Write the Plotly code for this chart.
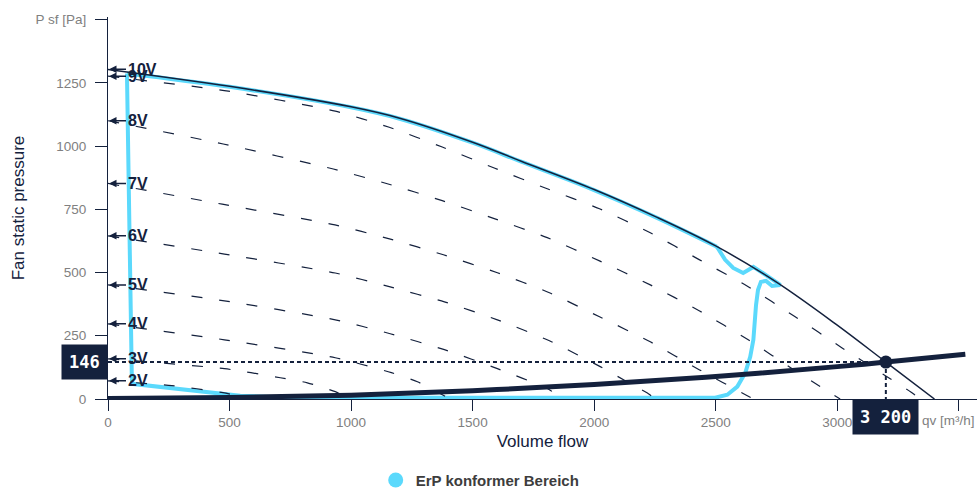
import plotly.graph_objects as go

NAVY = "#14213d"
ERP_BLUE = "#5bd9fc"
GRAY = "#808080"

# ---- axis ticks ----
x_ticks = [0, 500, 1000, 1500, 2000, 2500, 3000, 3500]
x_tick_labels = ["0", "500", "1000", "1500", "2000", "2500", "3000", ""]
x_unit_label = "qv [m³/h]"
y_ticks = [0, 250, 500, 750, 1000, 1250, 1500]
y_tick_labels = ["0", "250", "500", "750", "1000", "1250", "P sf [Pa]"]

# ---- fan curves (volume flow m³/h, static pressure Pa) ----
q_10v = [0, 500, 1000, 1200, 1500, 1700, 2000, 2250, 2500, 2750, 3000, 3200, 3400]
p_10v = [1303, 1236, 1155, 1110, 1015, 940, 828, 722, 605, 462, 292, 146, 0]

q_9v = [0, 495, 935, 1157, 1375, 1589, 1807, 2022, 2231, 2432, 2634, 2827, 3020, 3218, 3313, 3337]
p_9v = [1276, 1217, 1138, 1074, 996, 913, 831, 752, 657, 551, 444, 325, 202, 80, 21, 0]

q_8v = [0, 474, 927, 1149, 1375, 1589, 1807, 2022, 2231, 2432, 2634, 2827, 3012]
p_8v = [1100, 1008, 909, 851, 784, 713, 638, 546, 451, 349, 234, 112, 0]

q_7v = [0, 470, 934, 1158, 1380, 1602, 1816, 2022, 2231, 2432, 2630, 2655]
p_7v = [852, 770, 688, 633, 570, 499, 420, 325, 226, 116, 13, 0]

q_6v = [0, 479, 935, 1161, 1384, 1602, 1816, 2025, 2128, 2223, 2251]
p_6v = [645, 573, 498, 443, 384, 313, 230, 128, 72, 21, 0]

q_5v = [0, 479, 935, 1161, 1384, 1602, 1816, 1862]
p_5v = [451, 388, 313, 258, 195, 120, 37, 0]

q_4v = [0, 479, 935, 1166, 1273, 1408]
p_4v = [297, 234, 163, 104, 68, 0]

q_3v = [0, 479, 709, 820, 935, 997]
p_3v = [159, 120, 84, 64, 29, 0]

q_2v = [0, 263, 473, 585]
p_2v = [72, 53, 25, 0]

dashed_names = ["9V", "8V", "7V", "6V", "5V", "4V", "3V", "2V"]
dashed_q = [q_9v, q_8v, q_7v, q_6v, q_5v, q_4v, q_3v, q_2v]
dashed_p = [p_9v, p_8v, p_7v, p_6v, p_5v, p_4v, p_3v, p_2v]

# ---- ErP conform area outline ----
erp_top_q = [78, 500, 1000, 1200, 1500, 1700, 2000, 2250, 2505]
erp_top_p = [1287, 1234, 1153, 1108, 1013, 938, 826, 720, 602]
erp_rest_q = [2505, 2539, 2572, 2613, 2634, 2655, 2710, 2766, 2732, 2707, 2686, 2674, 2666,
              2655, 2642, 2622, 2589, 2548, 2498, 2000, 1000, 750, 544, 265, 100, 98, 78]
erp_rest_p = [602, 550, 518, 498, 510, 522, 488, 451, 447, 467, 463, 431, 372,
              234, 167, 104, 49, 17, 5, 4, 4, 5, 13, 45, 60, 84, 1287]

# ---- system curve and operating point ----
sys_q = [0, 500, 1000, 1500, 2000, 2500, 3000, 3200, 3527]
sys_p = [2, 6, 15, 33, 57, 89, 128, 146, 177]
op_q = 3200
op_p = 146

fig = go.Figure()

# ErP area outline (behind)
fig.add_trace(go.Scatter(x=erp_top_q, y=erp_top_p, mode="lines",
                         line=dict(color=ERP_BLUE, width=4, shape="spline", smoothing=1.0),
                         showlegend=False, hoverinfo="skip"))
fig.add_trace(go.Scatter(x=erp_rest_q, y=erp_rest_p, mode="lines",
                         line=dict(color=ERP_BLUE, width=4),
                         showlegend=False, hoverinfo="skip"))

# dashed lower-voltage curves
for name, q, p in zip(dashed_names, dashed_q, dashed_p):
    fig.add_trace(go.Scatter(x=q, y=p, mode="lines", name=name,
                             line=dict(color=NAVY, width=1.2, dash="11px,17px", shape="spline", smoothing=0.6),
                             showlegend=False, hoverinfo="skip"))

# 10V max curve
fig.add_trace(go.Scatter(x=q_10v, y=p_10v, mode="lines", name="10V",
                         line=dict(color=NAVY, width=1.5, shape="spline", smoothing=1.0),
                         showlegend=False, hoverinfo="skip"))

# dotted guide lines to operating point
fig.add_trace(go.Scatter(x=[0, op_q], y=[op_p, op_p], mode="lines",
                         line=dict(color=NAVY, width=2, dash="4px,3px"),
                         showlegend=False, hoverinfo="skip"))
fig.add_trace(go.Scatter(x=[op_q, op_q], y=[op_p, 0], mode="lines",
                         line=dict(color=NAVY, width=2, dash="4px,3px"),
                         showlegend=False, hoverinfo="skip"))

# system curve
fig.add_trace(go.Scatter(x=sys_q, y=sys_p, mode="lines",
                         line=dict(color=NAVY, width=5, shape="spline"),
                         showlegend=False, hoverinfo="skip"))

# operating point
fig.add_trace(go.Scatter(x=[op_q], y=[op_p], mode="markers",
                         marker=dict(color=NAVY, size=13),
                         showlegend=False, hoverinfo="skip"))

# legend entry
fig.add_trace(go.Scatter(x=[None], y=[None], mode="markers", name="ErP konformer Bereich",
                         marker=dict(color=ERP_BLUE, size=15, symbol="circle")))

annotations = []
label_names = ["10V"] + dashed_names
label_p = [p_10v[0]] + [p[0] for p in dashed_p]
for name, p0 in zip(label_names, label_p):
    annotations.append(dict(
        x=0, y=p0, xref="x", yref="y", text=name,
        showarrow=True, ax=18, ay=0, xanchor="left", yanchor="middle",
        arrowhead=2, arrowsize=1, arrowwidth=1.5, arrowcolor=NAVY, standoff=1,
        font=dict(family="Liberation Sans, Arial, sans-serif", size=16, color=NAVY, weight="bold"),
    ))

annotations.append(dict(
    x=0, y=op_p, xref="x", yref="y", text=f"{op_p}", showarrow=False,
    xanchor="right", yanchor="middle", bgcolor=NAVY, borderpad=7,
    font=dict(family="DejaVu Sans Mono, monospace", size=17, color="white", weight="bold"),
))
annotations.append(dict(
    x=op_q, y=0, xref="x", yref="y", text=f"{op_q:,}".replace(",", " "), showarrow=False,
    xanchor="center", yanchor="top", bgcolor=NAVY, borderpad=7,
    font=dict(family="DejaVu Sans Mono, monospace", size=17, color="white", weight="bold"),
))
annotations.append(dict(
    x=1, y=0, xref="paper", yref="paper", text=x_unit_label, showarrow=False,
    xanchor="right", yanchor="middle", yshift=-21,
    font=dict(family="Liberation Sans, Arial, sans-serif", size=13.5, color=GRAY),
))

fig.update_layout(
    width=978, height=489,
    margin=dict(l=108, r=1, t=17, b=90),
    paper_bgcolor="white", plot_bgcolor="white",
    font=dict(family="Liberation Sans, Arial, sans-serif", color=NAVY),
    annotations=annotations,
    legend=dict(orientation="h", xref="container", yref="container", x=0.491, y=0.018,
                xanchor="center", yanchor="middle",
                font=dict(size=15, color="#3d3d3d", weight="bold")),
    xaxis=dict(range=[0, 3575], tickvals=x_ticks, ticktext=x_tick_labels,
               showline=True, linecolor=NAVY, linewidth=1.2, ticks="outside", ticklen=11,
               tickcolor=NAVY, tickwidth=1.2, showgrid=False, zeroline=False,
               tickfont=dict(size=13.5, color=GRAY),
               title=dict(text="Volume flow", font=dict(size=17, color=NAVY), standoff=5)),
    yaxis=dict(range=[0, 1510], tickvals=y_ticks, ticktext=y_tick_labels,
               showline=True, linecolor=NAVY, linewidth=1.2, ticks="outside", ticklen=12,
               tickcolor=NAVY, tickwidth=1.2, showgrid=False, zeroline=False,
               ticklabelstandoff=6,
               tickfont=dict(size=13.5, color=GRAY),
               title=dict(text="Fan static pressure", font=dict(size=17, color=NAVY), standoff=6)),
)

fig.write_html(
    "out.html",
    config={"displayModeBar": False},
    post_script=("document.documentElement.style.overflow='hidden';"
                 "document.body.style.margin='0';document.body.style.overflow='hidden';"),
)
